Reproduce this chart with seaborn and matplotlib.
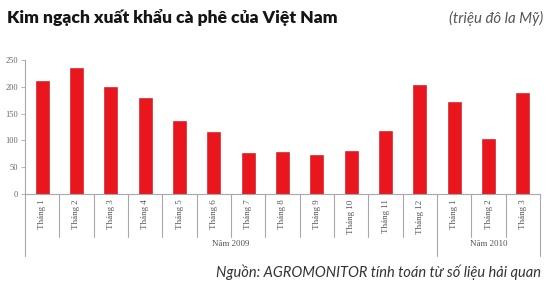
import matplotlib
matplotlib.use("Agg")
import matplotlib.pyplot as plt
import seaborn as sns
import pandas as pd
from matplotlib.transforms import blended_transform_factory

# ---- data ----
months = ["Tháng 1", "Tháng 2", "Tháng 3", "Tháng 4", "Tháng 5", "Tháng 6",
          "Tháng 7", "Tháng 8", "Tháng 9", "Tháng 10", "Tháng 11", "Tháng 12",
          "Tháng 1", "Tháng 2", "Tháng 3"]
years = ["Năm 2009"] * 12 + ["Năm 2010"] * 3
values = [211, 236, 199, 179, 137, 116, 77, 78, 72, 80, 117, 204, 171, 102, 189]
yticks = [0, 50, 100, 150, 200, 250]

title = "Kim ngạch xuất khẩu cà phê của Việt Nam"
unit = "(triệu đô la Mỹ)"
source = "Nguồn: AGROMONITOR tính toán từ số liệu hải quan"

sns.set_theme(style="white")
plt.rcParams["font.family"] = ["Liberation Serif", "DejaVu Sans"]

df = pd.DataFrame({
    "key": [f"{y}|{m}" for y, m in zip(years, months)],
    "month": months,
    "year": years,
    "value": values,
})

W, H = 550, 284
fig = plt.figure(figsize=(W / 100, H / 100), dpi=100)
fig.patch.set_facecolor("white")
ax = fig.add_axes([25 / W, (H - 194) / H, (540 - 25) / W, 134 / H])

sns.barplot(data=df, x="key", y="value", color="#EA161E", saturation=1,
            width=0.38, edgecolor="#C81018", linewidth=0.4, ax=ax)

ax.set_xlim(-0.5, len(values) - 0.5)
ax.set_ylim(0, 250)
ax.set_yticks(yticks)
ax.set_yticklabels([str(v) for v in yticks])
ax.set_xticks(range(len(months)))
ax.set_xticklabels(months, rotation=90)
ax.set_xlabel("")
ax.set_ylabel("")

axis_col = "#A8A8A8"
for s in ["top", "right"]:
    ax.spines[s].set_visible(False)
for s in ["left", "bottom"]:
    ax.spines[s].set_color(axis_col)
    ax.spines[s].set_linewidth(0.8)

ax.tick_params(axis="y", which="both", left=True, length=3, width=0.6,
               color=axis_col, labelsize=6, labelcolor="#666666", pad=2)
ax.tick_params(axis="x", length=0, pad=4, labelsize=6.5, labelcolor="#555555")

# category separators and group separators
trans = blended_transform_factory(ax.transData, ax.transAxes)
group_bounds = {0, 12, len(values)}
for i in range(len(values) + 1):
    x = i - 0.5
    yb = -0.46 if i in group_bounds else -0.32
    ax.plot([x, x], [0, yb], transform=trans, color=axis_col, lw=0.8,
            clip_on=False)

# group labels
for name in ["Năm 2009", "Năm 2010"]:
    idx = [i for i, y in enumerate(years) if y == name]
    cx = sum(idx) / len(idx)
    ax.text(cx, -0.375, name, transform=trans, ha="center", va="center",
            fontsize=6.5, color="#555555")

# titles
fig.text(7 / W, 1 - 18 / H, title, ha="left", va="center", fontsize=12.6,
         fontweight="heavy", color="#151515", family=["Lato", "DejaVu Sans"])
fig.text(543 / W, 1 - 18 / H, unit, ha="right", va="center", fontsize=10.8,
         style="italic", color="#555555", family=["Lato", "DejaVu Sans"])
fig.text(541 / W, 1 - 272 / H, source, ha="right", va="center", fontsize=10.5,
         style="italic", color="#333333", family=["Lato", "DejaVu Sans"])

fig.savefig("out.png", dpi=100, facecolor="white")
